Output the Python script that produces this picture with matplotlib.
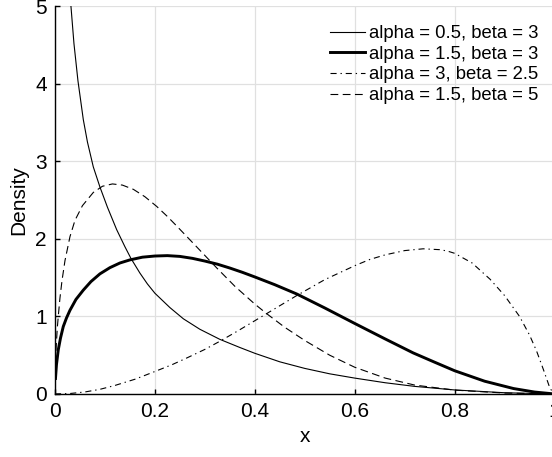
import numpy as np
import matplotlib
matplotlib.use("Agg")
import matplotlib.pyplot as plt

plt.rcParams['font.family'] = ['Liberation Sans', 'DejaVu Sans']

# Beta densities for four (alpha, beta) pairs, sampled along x
labels = ["alpha = 0.5, beta = 3", "alpha = 1.5, beta = 3",
          "alpha = 3, beta = 2.5", "alpha = 1.5, beta = 5"]

x_a05_b3 = [0.032, 0.038, 0.046, 0.0567, 0.065, 0.0767, 0.09, 0.105,
            0.1235, 0.14, 0.152, 0.17, 0.185, 0.2, 0.23, 0.257, 0.29,
            0.33, 0.37, 0.4, 0.45, 0.5, 0.55, 0.6, 0.661, 0.72, 0.8,
            0.9, 1.0]
y_a05_b3 = [5.0, 4.52, 4.04, 3.54, 3.25, 2.93, 2.67, 2.41,
            2.12, 1.90, 1.75, 1.56, 1.42, 1.30, 1.115, 0.97, 0.835,
            0.705, 0.60, 0.525, 0.415, 0.33, 0.26, 0.205, 0.145, 0.098,
            0.052, 0.016, 0.0]

x_a15_b3 = [0.001, 0.003, 0.0066, 0.011, 0.0166, 0.023, 0.030, 0.042,
            0.0567, 0.072, 0.09, 0.11, 0.13, 0.15, 0.175, 0.2, 0.225,
            0.25, 0.275, 0.3, 0.325, 0.35, 0.375, 0.4, 0.44, 0.484,
            0.54, 0.6, 0.661, 0.717, 0.76, 0.8, 0.86, 0.918, 0.96, 1.0]
y_a15_b3 = [0.20, 0.38, 0.57, 0.72, 0.87, 0.98, 1.08, 1.22,
            1.34, 1.45, 1.55, 1.63, 1.69, 1.73, 1.765, 1.78, 1.785,
            1.775, 1.75, 1.715, 1.675, 1.625, 1.57, 1.51, 1.41, 1.29,
            1.11, 0.91, 0.71, 0.53, 0.41, 0.30, 0.165, 0.07, 0.025, 0.0]

x_a3_b25 = [0.0, 0.03, 0.06, 0.09, 0.12, 0.16, 0.2, 0.235, 0.264, 0.3,
            0.33, 0.365, 0.4, 0.44, 0.484, 0.54, 0.6, 0.63, 0.661, 0.7,
            0.737, 0.77, 0.785, 0.8, 0.835, 0.871, 0.9, 0.93, 0.95,
            0.964, 0.978, 0.991, 1.0]
y_a3_b25 = [0.0, 0.006, 0.026, 0.06, 0.11, 0.19, 0.29, 0.38, 0.465, 0.575,
            0.68, 0.81, 0.945, 1.10, 1.27, 1.475, 1.655, 1.735, 1.795, 1.85,
            1.873, 1.862, 1.845, 1.815, 1.69, 1.48, 1.27, 1.0, 0.76,
            0.555, 0.31, 0.07, 0.0]

x_a15_b5 = [0.001, 0.0025, 0.0046, 0.007, 0.01, 0.014, 0.02, 0.03, 0.04,
            0.055, 0.0767, 0.095, 0.115, 0.135, 0.157, 0.18, 0.2036,
            0.225, 0.244, 0.27, 0.29, 0.324, 0.36, 0.4, 0.424, 0.46,
            0.5, 0.55, 0.6, 0.661, 0.72, 0.8, 0.9, 1.0]
y_a15_b5 = [0.40, 0.62, 0.85, 1.03, 1.24, 1.46, 1.72, 2.03, 2.24,
            2.43, 2.60, 2.68, 2.71, 2.695, 2.64, 2.545, 2.42,
            2.29, 2.165, 1.99, 1.855, 1.625, 1.39, 1.16, 1.035, 0.86,
            0.69, 0.50, 0.345, 0.205, 0.115, 0.05, 0.012, 0.0]

series_x = [x_a05_b3, x_a15_b3, x_a3_b25, x_a15_b5]
series_y = [y_a05_b3, y_a15_b3, y_a3_b25, y_a15_b5]

styles = [dict(lw=0.8, ls='-'),
          dict(lw=2.1, ls='-'),
          dict(lw=0.8, ls=(0, (5.5, 3.5, 1.2, 3.5))),
          dict(lw=0.8, ls=(0, (7, 4)))]

x_ticks = [0, 0.2, 0.4, 0.6, 0.8, 1]
x_ticklabels = ["0", "0.2", "0.4", "0.6", "0.8", "1"]
y_ticks = [0, 1, 2, 3, 4, 5]

fig = plt.figure(figsize=(5.52, 4.57), dpi=100)
ax = fig.add_axes([0.0996, 0.1379, 0.905, 0.848])

for xs, ys, lab, st in zip(series_x, series_y, labels, styles):
    ax.plot(xs, ys, color='black', label=lab,
            solid_joinstyle='round', **st)

ax.set_xlim(0, 1)
ax.set_ylim(0, 5)
ax.set_xticks(x_ticks)
ax.set_xticklabels(x_ticklabels)
ax.set_yticks(y_ticks)
ax.grid(True, color='#e0e0e0', lw=0.9)
ax.set_axisbelow(True)
for s in ['top', 'right']:
    ax.spines[s].set_visible(False)
for s in ['left', 'bottom']:
    ax.spines[s].set_linewidth(1.0)
ax.tick_params(direction='in', length=3.6, width=1, labelsize=15, pad=6)
ax.set_xlabel("x", fontsize=15, labelpad=4)
ax.set_ylabel("Density", fontsize=15, labelpad=5)

ax.legend(loc='upper left', frameon=False, fontsize=13.3,
          handlelength=1.9, handletextpad=0.2, labelspacing=0.2,
          borderpad=0, borderaxespad=0,
          bbox_to_anchor=(330 / 552, 1 - 25 / 457),
          bbox_transform=fig.transFigure)

fig.savefig("out.png", dpi=100)
